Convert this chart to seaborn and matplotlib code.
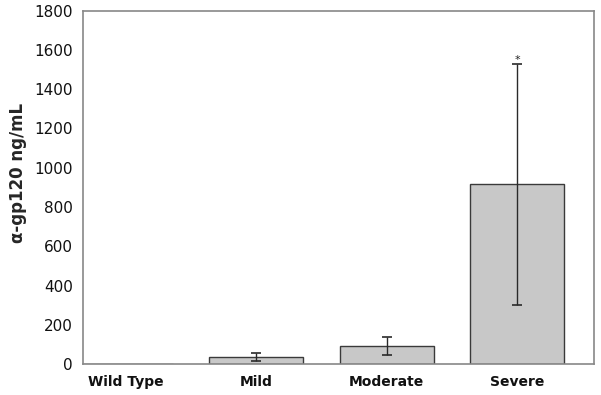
import pandas as pd
import seaborn as sns
import matplotlib.pyplot as plt

groups = ["Wild Type", "Mild", "Moderate", "Severe"]
means = [0, 38, 93, 916]
errors = [0, 22, 48, 613]
y_ticks = [0, 200, 400, 600, 800, 1000, 1200, 1400, 1600, 1800]


def main():
    df = pd.DataFrame({"group": groups, "value": means})

    sns.set_style("white")
    plt.rcParams["font.family"] = ["DejaVu Sans"]

    fig = plt.figure(figsize=(6.01, 3.95), dpi=100)
    ax = fig.add_axes([0.1376, 0.0777, 0.8508, 0.8957])

    sns.barplot(data=df, x="group", y="value", order=groups, color="#c8c8c8",
                saturation=1, edgecolor="#3a3a3a", linewidth=1.0, width=0.72,
                errorbar=None, ax=ax)

    # error bars only where there is a spread
    for i, (m, e) in enumerate(zip(means, errors)):
        if e > 0:
            ax.errorbar(i, m, yerr=e, fmt="none", ecolor="#2a2a2a",
                        elinewidth=1.0, capsize=3.5, capthick=1.2)

    ax.text(3, means[3] + errors[3] - 5, "*", ha="center", va="bottom",
            fontsize=8, color="#222222")

    ax.set_ylim(0, 1800)
    ax.set_yticks(y_ticks)
    ax.set_xlim(-0.33, 3.59)
    ax.set_xlabel("")
    ax.set_ylabel("α-gp120 ng/mL", fontsize=12, fontweight="bold",
                  labelpad=5, y=0.54)

    for side in ["left", "right", "top", "bottom"]:
        ax.spines[side].set_visible(True)
        ax.spines[side].set_color("#888888")
        ax.spines[side].set_linewidth(1.2)

    ax.tick_params(axis="y", direction="out", length=4, width=1,
                   color="#888888", labelsize=11, labelcolor="#111111", pad=3)
    ax.tick_params(axis="x", length=0, labelsize=10, labelcolor="#111111",
                   pad=8)
    for lab in ax.get_xticklabels():
        lab.set_fontweight("bold")

    fig.savefig("out.png", dpi=100)


if __name__ == "__main__":
    main()
